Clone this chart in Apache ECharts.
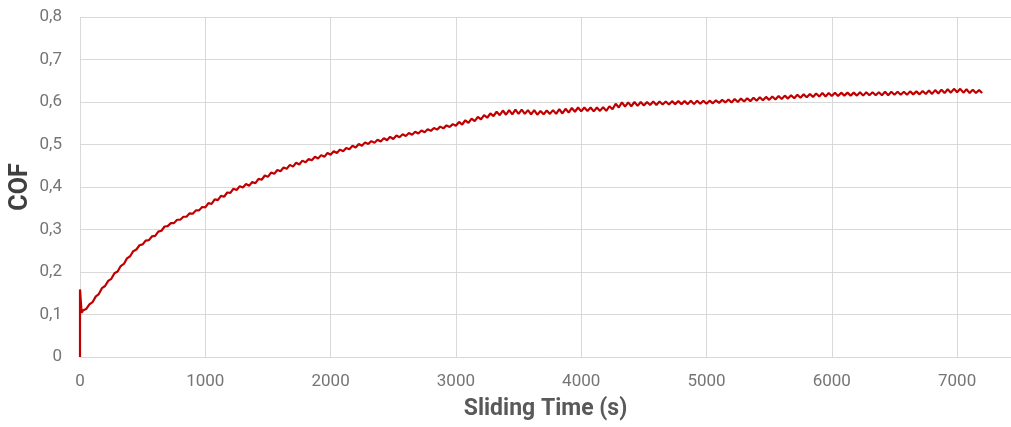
<!DOCTYPE html>
<html>
<head>
<meta charset="utf-8">
<script src="https://cdn.jsdelivr.net/npm/echarts@6/dist/echarts.min.js"></script>
<style>
html,body{margin:0;padding:0;background:#fff;}
#chart{width:1011px;height:427px;}
</style>
</head>
<body>
<div id="chart"></div>
<script>
// Initial run-in spike (time in s, COF)
const startTimes = [0, 0, 13];
const startValues = [0, 0.159, 0.104];

// COF readings sampled every 25 s from 25 s to 7200 s
const sampleStep = 25;
const cofValues = [
  0.110,0.113,0.124,0.129,0.142,0.148,0.162,0.167,0.179,0.184,
  0.197,0.201,0.214,0.219,0.232,0.237,0.249,0.253,0.263,0.265,
  0.274,0.275,0.284,0.285,0.295,0.297,0.307,0.308,0.315,0.315,
  0.323,0.323,0.330,0.330,0.338,0.337,0.345,0.345,0.353,0.352,
  0.362,0.360,0.371,0.369,0.379,0.377,0.387,0.386,0.396,0.393,
  0.402,0.399,0.407,0.403,0.412,0.409,0.419,0.417,0.427,0.424,
  0.434,0.431,0.440,0.437,0.446,0.443,0.452,0.448,0.457,0.453,
  0.462,0.458,0.466,0.463,0.471,0.467,0.475,0.471,0.480,0.476,
  0.484,0.480,0.488,0.484,0.492,0.489,0.497,0.493,0.501,0.497,
  0.505,0.501,0.508,0.504,0.511,0.507,0.515,0.510,0.518,0.513,
  0.521,0.517,0.524,0.520,0.527,0.523,0.530,0.526,0.533,0.529,
  0.536,0.532,0.539,0.535,0.542,0.538,0.545,0.541,0.548,0.544,
  0.553,0.547,0.557,0.551,0.561,0.555,0.565,0.559,0.569,0.563,
  0.573,0.567,0.577,0.569,0.580,0.570,0.581,0.571,0.582,0.572,
  0.582,0.572,0.581,0.571,0.581,0.570,0.579,0.571,0.580,0.572,
  0.581,0.572,0.583,0.573,0.584,0.575,0.586,0.577,0.587,0.578,
  0.587,0.579,0.587,0.578,0.587,0.579,0.588,0.579,0.590,0.583,
  0.596,0.587,0.599,0.589,0.599,0.590,0.600,0.591,0.600,0.592,
  0.600,0.593,0.601,0.593,0.601,0.594,0.601,0.594,0.602,0.595,
  0.602,0.595,0.602,0.595,0.603,0.595,0.603,0.596,0.603,0.596,
  0.603,0.597,0.604,0.598,0.605,0.599,0.606,0.599,0.607,0.600,
  0.608,0.601,0.609,0.602,0.610,0.603,0.611,0.604,0.612,0.605,
  0.613,0.606,0.614,0.607,0.615,0.608,0.616,0.609,0.617,0.610,
  0.618,0.611,0.619,0.612,0.620,0.613,0.621,0.613,0.621,0.614,
  0.622,0.614,0.622,0.615,0.622,0.615,0.622,0.615,0.623,0.615,
  0.623,0.616,0.623,0.616,0.623,0.616,0.624,0.616,0.624,0.617,
  0.624,0.617,0.624,0.617,0.625,0.618,0.625,0.618,0.626,0.619,
  0.627,0.619,0.628,0.620,0.629,0.621,0.630,0.622,0.631,0.623,
  0.631,0.622,0.630,0.621,0.629,0.621,0.628,0.621
];

const xTitle = 'Sliding Time (s)';
const yTitle = 'COF';
const xTickMax = 7000;

const seriesData = [];
for (let i = 0; i < startTimes.length; i++) seriesData.push([startTimes[i], startValues[i]]);
for (let i = 0; i < cofValues.length; i++) seriesData.push([(i + 1) * sampleStep, cofValues[i]]);

const chart = echarts.init(document.getElementById('chart'), null, {renderer: 'canvas'});
chart.setOption({
  animation: false,
  backgroundColor: '#ffffff',
  grid: {left: 80, right: 0, top: 17, bottom: 70, containLabel: false, outerBoundsMode: 'none'},
  xAxis: {
    type: 'value',
    min: 0, max: 7430, interval: 1000,
    name: xTitle,
    nameLocation: 'middle',
    nameGap: 41,
    nameTextStyle: {fontFamily: 'Roboto', fontWeight: 'bold', fontSize: 23, color: '#595959'},
    axisLine: {show: true, lineStyle: {color: '#d9d9d9', width: 1}},
    axisTick: {show: false},
    axisLabel: {
      margin: 16, fontFamily: 'Roboto', fontSize: 17, color: '#757575',
      showMaxLabel: false,
      formatter: function (v) { return v > xTickMax ? '' : String(v); }
    },
    splitLine: {show: true, lineStyle: {color: '#d9d9d9', width: 1}}
  },
  yAxis: {
    type: 'value',
    min: 0, max: 0.8, interval: 0.1,
    name: yTitle,
    nameLocation: 'middle',
    nameGap: 47,
    nameMoveOverlap: false,
    nameRotate: 90,
    nameTextStyle: {fontFamily: 'Roboto', fontWeight: 'bold', fontSize: 25, color: '#404040'},
    axisLine: {show: false},
    axisTick: {show: false},
    axisLabel: {
      margin: 18, fontFamily: 'Roboto', fontSize: 17, color: '#757575',
      formatter: function (v) { return (Math.round(v * 10) / 10).toString().replace('.', ','); }
    },
    splitLine: {show: true, lineStyle: {color: '#d9d9d9', width: 1}}
  },
  series: [{
    type: 'line',
    data: seriesData,
    showSymbol: false,
    symbol: 'none',
    lineStyle: {color: '#c00000', width: 2.2},
    itemStyle: {color: '#c00000'}
  }]
});
</script>
</body>
</html>
